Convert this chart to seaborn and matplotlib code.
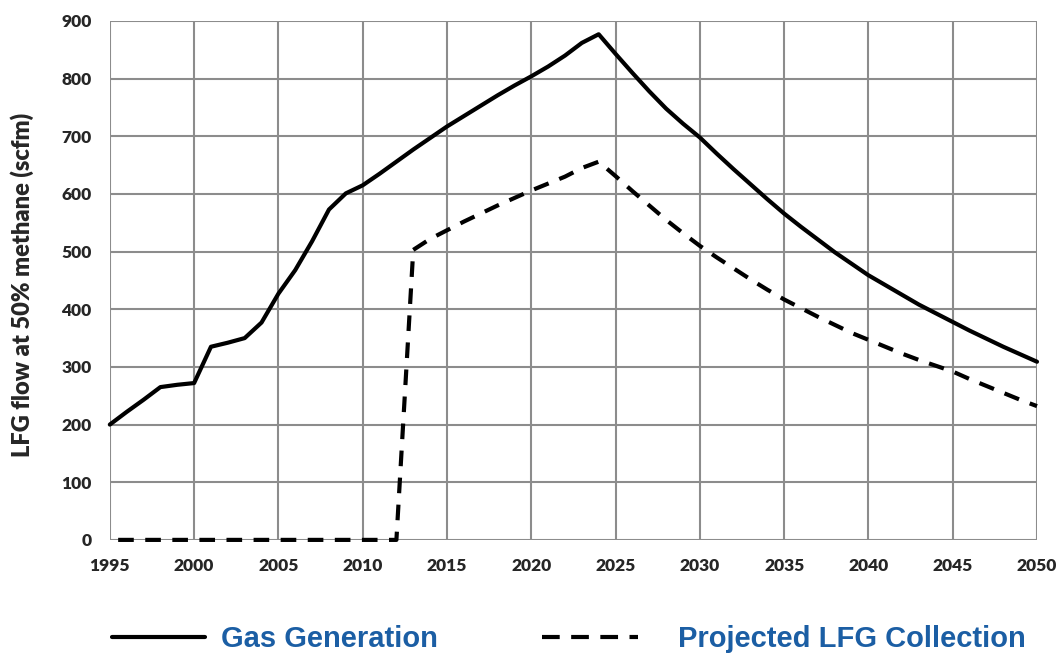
import matplotlib
matplotlib.use("Agg")
import matplotlib.pyplot as plt
from matplotlib.lines import Line2D
import seaborn as sns
import pandas as pd

gen_years = list(range(1995, 2051))
gas_generation = [200, 222, 243, 265, 269, 272, 335, 342, 350, 377,
                  427, 468, 518, 573, 601, 615, 635, 656, 677, 697,
                  717, 735, 753, 771, 788, 804, 821, 840, 862, 877,
                  843, 810, 778, 748, 722, 698, 670, 643, 617, 591,
                  566, 543, 521, 499, 479, 459, 442, 425, 408, 393,
                  378, 363, 349, 335, 322, 309]
coll_years = list(range(1995, 2051))
lfg_collection = [0] * 18 + [503, 522, 537, 552, 566, 580, 593, 606, 618, 630,
                             645, 656, 631, 605, 580, 555, 532, 510, 490, 471,
                             452, 434, 417, 402, 387, 373, 359, 347, 335, 323,
                             312, 302, 292, 279, 267, 255, 243, 232]
x_ticks = list(range(1995, 2051, 5))
y_ticks = list(range(0, 901, 100))
label_gen = "Gas Generation"
label_coll = "Projected LFG Collection"
y_label = "LFG flow at 50% methane (scfm)"

sns.set_theme(style="white")
plt.rcParams['font.family'] = ['Lato', 'DejaVu Sans']

df_gen = pd.DataFrame({"year": gen_years, "value": gas_generation})
df_coll = pd.DataFrame({"year": coll_years, "value": lfg_collection})

fig = plt.figure(figsize=(10.56, 6.56), dpi=100)
ax = fig.add_axes([0.104, 0.177, 0.878, 0.791])

grid_c = "#8c8c8c"
lw = 3.0
sns.lineplot(data=df_gen, x="year", y="value", ax=ax, color="black",
             linewidth=lw, zorder=3, clip_on=False)
sns.lineplot(data=df_coll, x="year", y="value", ax=ax, color="black",
             linewidth=lw, zorder=3, clip_on=False)
coll_line = ax.lines[-1]
coll_line.set_linestyle((4.5, (3.75, 2.75)))
coll_line.set_dash_capstyle("butt")

ax.set_xlim(1995, 2050)
ax.set_ylim(0, 900)
ax.set_xticks(x_ticks)
ax.set_yticks(y_ticks)
ax.grid(True, color=grid_c, linewidth=1.5)
ax.set_axisbelow(True)
for s in ax.spines.values():
    s.set_visible(False)
ax.tick_params(axis="both", which="major", length=5, width=1.5, color=grid_c,
               labelsize=12.5)
ax.tick_params(axis="y", pad=8)
ax.tick_params(axis="x", pad=8)
for lab in ax.get_xticklabels() + ax.get_yticklabels():
    lab.set_fontweight("heavy")
ax.set_xlabel("")
ax.set_ylabel("")
fig.text(22 / 1056, 1 - 285 / 656, y_label, rotation=90, ha="center",
         va="center", fontsize=17, fontweight="heavy")

leg_prop = {"size": 21, "weight": "bold", "family": "Liberation Sans"}
leg_y = 1 - 639 / 656
h1 = Line2D([], [], color="black", linewidth=3)
h2 = Line2D([], [], color="black", linewidth=3, linestyle=(0, (4.25, 2.75)),
            dash_capstyle="butt")
leg1 = fig.legend([h1], [label_gen], loc="center left",
                  bbox_to_anchor=(112 / 1056, leg_y), frameon=False,
                  borderpad=0, borderaxespad=0, handlelength=3.2,
                  handletextpad=0.55, prop=leg_prop)
leg2 = fig.legend([h2], [label_coll], loc="center left",
                  bbox_to_anchor=(542 / 1056, leg_y), frameon=False,
                  borderpad=0, borderaxespad=0, handlelength=3.3,
                  handletextpad=1.35, prop=leg_prop)
for leg in (leg1, leg2):
    for t in leg.get_texts():
        t.set_color("#1b5ea4")

fig.savefig("out.png", dpi=100)
